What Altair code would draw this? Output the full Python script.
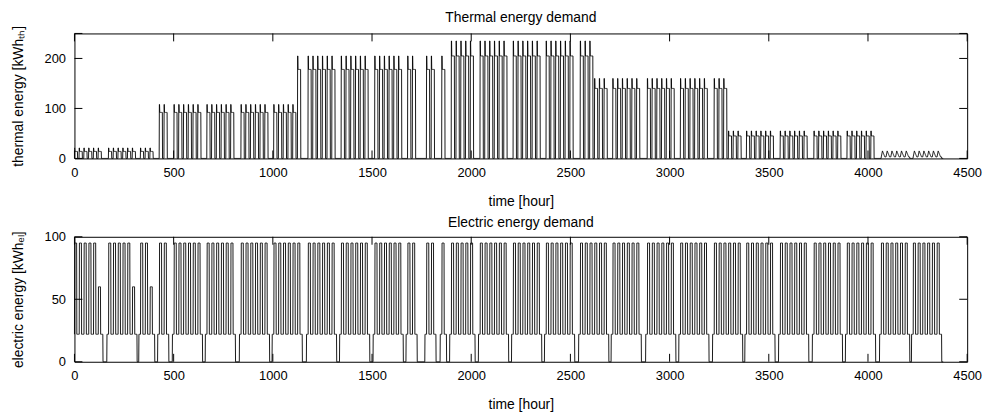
import altair as alt
import pandas as pd

HOURS = 4380

# working blocks: start hour and number of working days
BLOCK_START = [0, 172, 333, 428, 502, 668, 840, 1005, 1178, 1345, 1514, 1680, 1775,
               1852, 1900, 2045, 2212, 2378, 2550, 2714, 2888, 3055, 3225, 3388,
               3558, 3728, 3895, 4067, 4228]
BLOCK_DAYS = [6, 6, 3, 2, 6, 6, 6, 6, 6, 6, 6, 2, 2,
              1, 5, 6, 6, 6, 6, 6, 6, 6, 6, 6,
              6, 6, 6, 6, 6]
# electric level on the last working day of each block
EL_LAST_DAY = [60, 60, 60, 95, 95, 95, 95, 95, 95, 95, 95, 95, 95,
               95, 95, 95, 95, 95, 95, 95, 95, 95, 95, 95,
               95, 95, 95, 95, 95]

# thermal level periods (start hour, morning peak, day plateau)
LEVEL_FROM = [0, 420, 1125, 1880, 2610, 3292, 4050]
TH_PEAK = [21, 108, 205, 235, 160, 55, 15]
TH_PLATEAU = [14, 92, 178, 205, 140, 45, 15]
TRI_LEVEL = 6  # last period shows triangular daily shape

# daily shapes (hour of working day)
TH_DAY = [2, 2, 1, 1, 1, 1, 1, 1, 1, 1, 1, 1, 1, 1, 1, 1, 0, 0, 0, 0, 0, 0, 0, 0]
TRI_DAY = [3, 5, 7, 9, 11, 13, 15, 14, 13, 12, 11, 10, 9, 8, 7, 6, 5, 4, 3, 3, 3, 3, 3, 3]
EL_DAY = [22, 95, 95, 95, 95, 95, 95, 95, 95, 95, 95, 95, 22, 22, 22, 22, 22, 22, 22, 22, 22, 22, 22, 22]
EL_NIGHT = 22
EL_PRESTART_HOURS = 8

X_TICKS = [0, 500, 1000, 1500, 2000, 2500, 3000, 3500, 4000, 4500]
Y_TICKS_TH = [0, 100, 200, 250]
Y_TICKS_EL = [0, 50, 100]


def level_index(t):
    idx = 0
    for i, s in enumerate(LEVEL_FROM):
        if t >= s:
            idx = i
    return idx


th = [0.0] * HOURS
el = [0.0] * HOURS
for b, (s, n) in enumerate(zip(BLOCK_START, BLOCK_DAYS)):
    for d in range(n):
        t0 = s + 24 * d
        li = level_index(t0)
        for h in range(24):
            t = t0 + h
            if t >= HOURS:
                break
            if li == TRI_LEVEL:
                th[t] = TRI_DAY[h]
            else:
                code = TH_DAY[h]
                th[t] = TH_PEAK[li] if code == 2 else (TH_PLATEAU[li] if code == 1 else 0)
            v = EL_DAY[h]
            if d == n - 1 and v == 95:
                v = EL_LAST_DAY[b]
            el[t] = v
    end = s + 24 * n
    nxt = BLOCK_START[b + 1] if b + 1 < len(BLOCK_START) else HOURS
    for t in range(end, min(nxt, HOURS)):
        el[t] = EL_NIGHT if (b + 1 < len(BLOCK_START) and t >= nxt - EL_PRESTART_HOURS) else 0

df = pd.DataFrame({"hour": list(range(HOURS)), "thermal": th, "electric": el})

FONT = "Liberation Sans"
W, H = 900, 126
TL = 8
xscale = alt.Scale(domain=[0, 4500], nice=False, zero=False)


def panel(field, ymax, yticks, ytitle, title):
    yscale = alt.Scale(domain=[0, ymax], nice=False, zero=False)
    xaxis = alt.Axis(values=X_TICKS, title="time [hour]", ticks=False, domain=False, grid=False,
                     labelPadding=8, titlePadding=15, format="d", labelFlush=False)
    yaxis = alt.Axis(values=[v for v in yticks if v != 250], title=ytitle, ticks=False, domain=False,
                     grid=False, labelPadding=9, titlePadding=19, labelFlush=False)
    line = alt.Chart(df).mark_line(color="black", strokeWidth=0.9).encode(
        x=alt.X("hour:Q", scale=xscale, axis=xaxis),
        y=alt.Y(f"{field}:Q", scale=yscale, axis=yaxis),
    )
    xt = pd.DataFrame({"hour": X_TICKS})
    yt = pd.DataFrame({field: yticks})
    rule = dict(color="black", strokeWidth=1)
    xb = alt.Chart(xt).mark_rule(**rule).encode(
        x=alt.X("hour:Q", scale=xscale, axis=xaxis), y=alt.value(H), y2=alt.value(H - TL))
    xtop = alt.Chart(xt).mark_rule(**rule).encode(
        x=alt.X("hour:Q", scale=xscale, axis=xaxis), y=alt.value(0), y2=alt.value(TL))
    yl = alt.Chart(yt).mark_rule(**rule).encode(
        y=alt.Y(f"{field}:Q", scale=yscale, axis=yaxis), x=alt.value(0), x2=alt.value(TL))
    yr = alt.Chart(yt).mark_rule(**rule).encode(
        y=alt.Y(f"{field}:Q", scale=yscale, axis=yaxis), x=alt.value(W), x2=alt.value(W - TL))
    return alt.layer(line, xb, xtop, yl, yr).properties(
        width=W, height=H,
        title=alt.TitleParams(title, offset=1),
    )


top = panel("thermal", 250, Y_TICKS_TH, "thermal energy [kWhₜₕ]", "Thermal energy demand")
bottom = panel("electric", 100, Y_TICKS_EL, "electric energy [kWhₑₗ]", "Electric energy demand")

chart = alt.vconcat(top, bottom, spacing=6).properties(
    padding={"left": 2, "top": 0, "right": 5, "bottom": 0},
    background="white",
).configure_view(
    stroke="black", strokeWidth=1
).configure_axis(
    labelFont=FONT, labelFontSize=13, labelColor="black",
    titleFont=FONT, titleFontSize=14, titleFontWeight="normal", titleColor="black",
).configure_title(
    font=FONT, fontSize=14, fontWeight="normal", color="black",
)

chart.save("out.html", embed_options={"renderer": "svg", "actions": False})
